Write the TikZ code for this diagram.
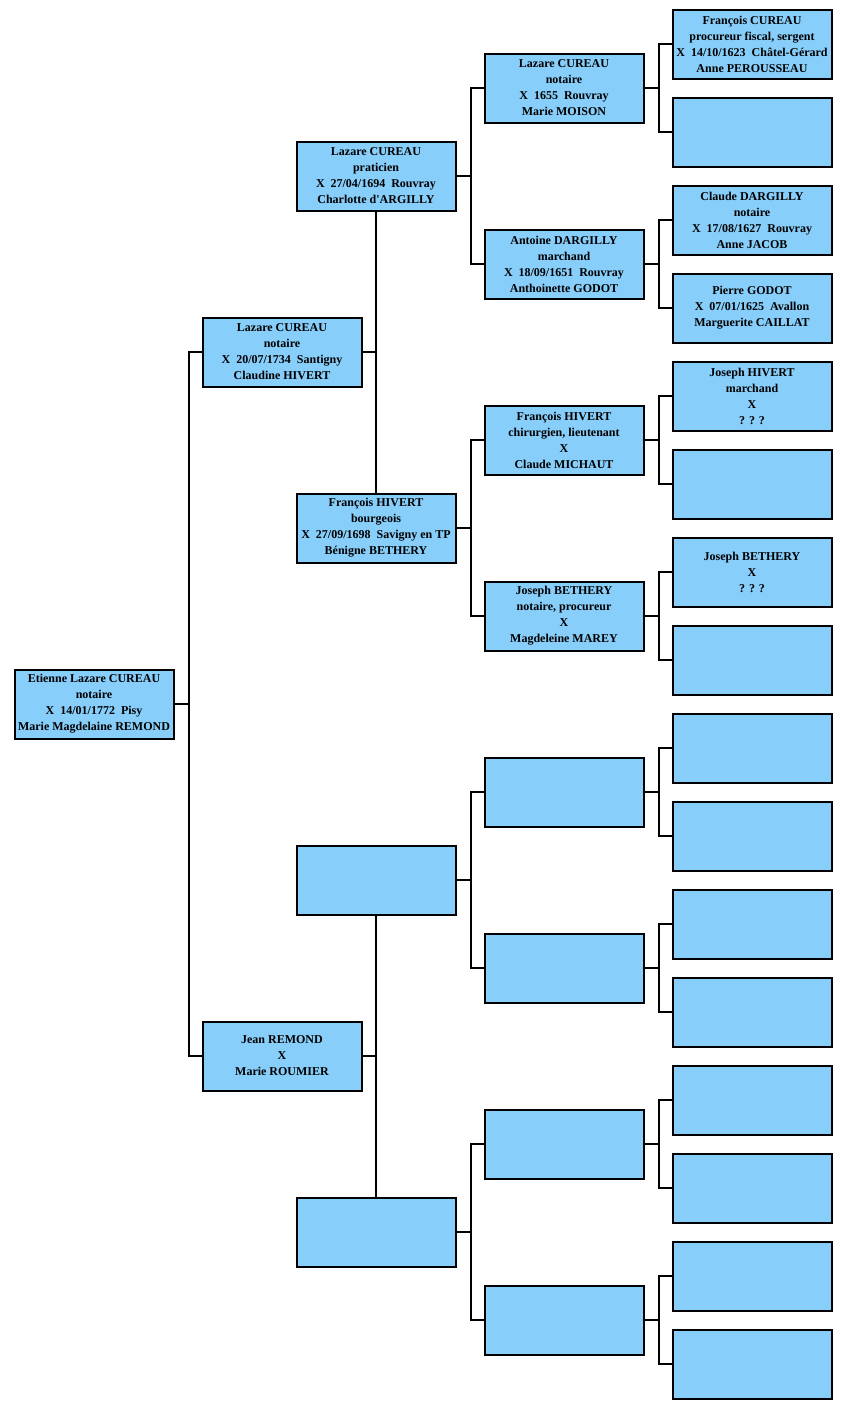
\documentclass[tikz,border=0pt]{standalone}
\usepackage{fontspec}
\setmainfont{Liberation Serif}
\definecolor{skyblue}{RGB}{135,206,250}
\tikzset{couple/.style={draw, line width=2pt, fill=skyblue, minimum width=159pt, minimum height=69pt, inner sep=0pt, align=center, font=\bfseries\fontsize{12}{16}\selectfont},
link/.style={line width=2pt}}
\newcommand\couple[4]{\node[couple] (#1) at (#2,#3) {#4};}
\newcommand\branch[3]{\draw[link] (#1.east) -- ++(14,0) coordinate (#1j); \draw[link] (#2.west) -| (#1j) |- (#3.west);}

\begin{document}
\begin{tikzpicture}[x=1pt,y=-1pt]
\useasboundingbox (0,0) rectangle (847,1409);
% generation 0 and 1
\couple{n1}{94}{704}{Etienne Lazare CUREAU\\notaire\\X~ 14/01/1772~ Pisy\\Marie Magdelaine REMOND}
\couple{n2}{282}{352}{Lazare CUREAU\\notaire\\X~ 20/07/1734~ Santigny\\Claudine HIVERT}
\couple{n3}{282}{1056}{Jean REMOND\\X\\Marie ROUMIER}
% generation 2
\couple{n4}{376}{176}{Lazare CUREAU\\praticien\\X~ 27/04/1694~ Rouvray\\Charlotte d\textquotesingle ARGILLY}
\couple{n5}{376}{528}{François HIVERT\\bourgeois\\X~ 27/09/1698~ Savigny en TP\\Bénigne BETHERY}
\couple{n6}{376}{880}{}
\couple{n7}{376}{1232}{}
% generation 3
\couple{n8}{564}{88}{Lazare CUREAU\\notaire\\X~ 1655~ Rouvray\\Marie MOISON}
\couple{n9}{564}{264}{Antoine DARGILLY\\marchand\\X~ 18/09/1651~ Rouvray\\Anthoinette GODOT}
\couple{n10}{564}{440}{François HIVERT\\chirurgien, lieutenant\\X\\Claude MICHAUT}
\couple{n11}{564}{616}{Joseph BETHERY\\notaire, procureur\\X\\Magdeleine MAREY}
\couple{n12}{564}{792}{}
\couple{n13}{564}{968}{}
\couple{n14}{564}{1144}{}
\couple{n15}{564}{1320}{}
% generation 4
\couple{n16}{752}{44}{François CUREAU\\procureur fiscal, sergent\\X~ 14/10/1623~ Châtel-Gérard\\Anne PEROUSSEAU}
\couple{n17}{752}{132}{}
\couple{n18}{752}{220}{Claude DARGILLY\\notaire\\X~ 17/08/1627~ Rouvray\\Anne JACOB}
\couple{n19}{752}{308}{Pierre GODOT\\X~ 07/01/1625~ Avallon\\Marguerite CAILLAT}
\couple{n20}{752}{396}{Joseph HIVERT\\marchand\\X\\? ? ?}
\couple{n21}{752}{484}{}
\couple{n22}{752}{572}{Joseph BETHERY\\X\\? ? ?}
\couple{n23}{752}{660}{}
\couple{n24}{752}{748}{}
\couple{n25}{752}{836}{}
\couple{n26}{752}{924}{}
\couple{n27}{752}{1012}{}
\couple{n28}{752}{1100}{}
\couple{n29}{752}{1188}{}
\couple{n30}{752}{1276}{}
\couple{n31}{752}{1364}{}
% links
\branch{n1}{n2}{n3}
\draw[link] (n4.south) -- (n5.north);
\draw[link] (n2.east) -- (n2.east -| n4.south);
\draw[link] (n6.south) -- (n7.north);
\draw[link] (n3.east) -- (n3.east -| n6.south);
\branch{n4}{n8}{n9}
\branch{n5}{n10}{n11}
\branch{n6}{n12}{n13}
\branch{n7}{n14}{n15}
\branch{n8}{n16}{n17}
\branch{n9}{n18}{n19}
\branch{n10}{n20}{n21}
\branch{n11}{n22}{n23}
\branch{n12}{n24}{n25}
\branch{n13}{n26}{n27}
\branch{n14}{n28}{n29}
\branch{n15}{n30}{n31}
\end{tikzpicture}
\end{document}
